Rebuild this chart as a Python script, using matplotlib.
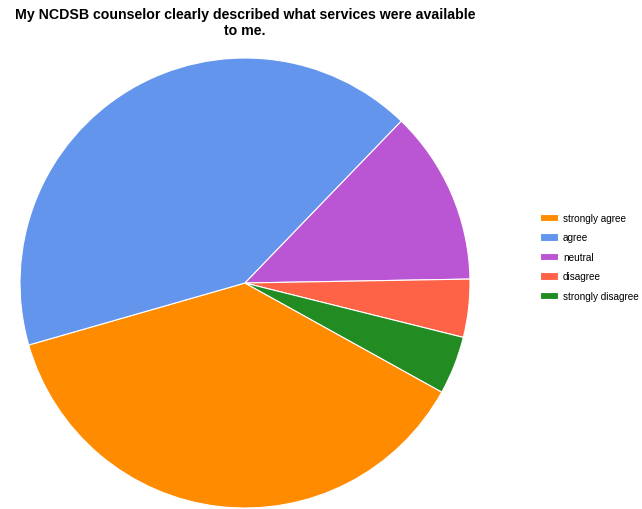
import matplotlib.pyplot as plt

labels = ['strongly agree', 'agree', 'neutral', 'disagree', 'strongly disagree']
counts = [9, 10, 3, 1, 1]
colors = ['#FF8C00', '#6495ED', '#BA55D3', '#FF6347', '#228B22']

plt.rcParams['font.family'] = ['Liberation Sans', 'DejaVu Sans']

fig = plt.figure(figsize=(6.42, 5.10), dpi=100)
ax = fig.add_axes([20 / 642, 1 / 510, 450 / 642, 450 / 510])

wedges, _ = ax.pie(counts, colors=colors, startangle=-29, counterclock=False,
                   radius=1.0, wedgeprops=dict(edgecolor='white', linewidth=0.8))
ax.set_xlim(-1, 1)
ax.set_ylim(-1, 1)
ax.set_aspect('equal')

fig.text(245 / 642, 1 - 23 / 510, 'My NCDSB counselor clearly described what services were available\nto me.',
         ha='center', va='center', fontsize=10.2, fontweight='bold', linespacing=1.15)

fig.legend(wedges, labels, loc='upper left', bbox_to_anchor=(536 / 642, 1 - 210 / 510),
           frameon=False, fontsize=7.2, handlelength=1.75, handleheight=0.8,
           labelspacing=0.95, handletextpad=0.55, borderaxespad=0)

fig.savefig('out.png', dpi=100)
